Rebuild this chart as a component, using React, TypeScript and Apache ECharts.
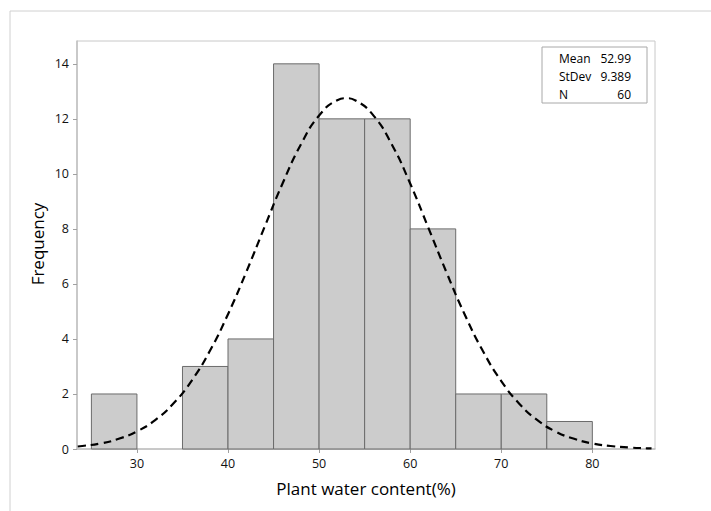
import React, { useEffect, useRef } from "react";
import * as echarts from "echarts";

const binStarts = [25, 30, 35, 40, 45, 50, 55, 60, 65, 70, 75];
const binEnds = [30, 35, 40, 45, 50, 55, 60, 65, 70, 75, 80];
const counts = [2, 0, 3, 4, 14, 12, 12, 8, 2, 2, 1];

const curveX = [23.5, 24, 26, 28, 30, 32, 34, 36, 38, 40, 42, 44, 46, 48, 50, 52, 53, 54, 56, 58, 60, 62, 64, 66, 68, 70, 72, 74, 76, 78, 80, 82, 84, 86, 86.5];
const curveY = [0.09, 0.11, 0.2, 0.37, 0.64, 1.05, 1.65, 2.48, 3.56, 4.9, 6.43, 8.06, 9.66, 11.07, 12.12, 12.68, 12.75, 12.67, 12.11, 11.06, 9.65, 8.04, 6.41, 4.88, 3.55, 2.47, 1.64, 1.04, 0.63, 0.37, 0.2, 0.11, 0.055, 0.026, 0.02];

const xTicks = [30, 40, 50, 60, 70, 80];
const yTicks = [0, 2, 4, 6, 8, 10, 12, 14];

const statLabels = ["Mean", "StDev", "N"];
const statValues = ["52.99", "9.389", "60"];

const FONT = "'Open Sans', 'Noto Sans', sans-serif";

export default function App() {
  const ref = useRef<HTMLDivElement>(null);
  useEffect(() => {
    if (!ref.current) return;
    const chart = echarts.init(ref.current, null, { renderer: "svg" });
    const barData = binStarts.map((s, i) => [s, binEnds[i], counts[i]]);
    const lineData = curveX.map((x, i) => [x, curveY[i]]);
    const statGraphics: any[] = [];
    statLabels.forEach((l, i) => {
      statGraphics.push({
        type: "text",
        left: 559,
        top: 52 + i * 18,
        style: { text: l, font: `12px ${FONT}`, fill: "#000" },
      });
      statGraphics.push({
        type: "text",
        x: 631,
        y: 52 + i * 18,
        style: { text: statValues[i], font: `12px ${FONT}`, fill: "#000", textAlign: "right", textVerticalAlign: "top" },
      });
    });
    chart.setOption({
      animation: false,
      backgroundColor: "#fff",
      grid: {
        left: 77,
        top: 41,
        right: 56,
        bottom: 62,
        show: true,
        borderColor: "#c8c8c8",
        borderWidth: 1,
      },
      xAxis: {
        type: "value",
        min: 23.42,
        max: 86.88,
        splitLine: { show: false },
        axisLine: { show: true, onZero: false, lineStyle: { color: "#c0c0c0", width: 1.5 } },
        axisTick: { show: true, length: 4, customValues: xTicks, lineStyle: { color: "#a0a0a0" } },
        axisLabel: { customValues: xTicks, margin: 8, fontSize: 12.5, color: "#111", fontFamily: FONT },
      },
      yAxis: {
        type: "value",
        min: 0,
        max: 14.83,
        splitLine: { show: false },
        axisLine: { show: true, lineStyle: { color: "#c0c0c0", width: 1.5 } },
        axisTick: { show: true, length: 4, customValues: yTicks, lineStyle: { color: "#a0a0a0" } },
        axisLabel: { customValues: yTicks, margin: 8, fontSize: 12.5, color: "#111", fontFamily: FONT },
      },
      series: [
        {
          type: "custom",
          data: barData,
          encode: { x: [0, 1], y: 2 },
          renderItem: (params: any, api: any) => {
            const s = api.value(0);
            const e = api.value(1);
            const c = api.value(2);
            if (!c) return null;
            const p0 = api.coord([s, 0]);
            const p1 = api.coord([e, c]);
            return {
              type: "rect",
              shape: { x: p0[0], y: p1[1], width: p1[0] - p0[0], height: p0[1] - p1[1] },
              style: { fill: "#cccccc", stroke: "#6b6b6b", lineWidth: 1 },
            };
          },
          z: 2,
        },
        {
          type: "line",
          data: lineData,
          smooth: true,
          symbol: "none",
          lineStyle: { color: "#000", width: 2.2, type: [8, 5] },
          z: 3,
        },
      ],
      graphic: [
        { type: "line", shape: { x1: 10, y1: 11, x2: 711, y2: 11 }, style: { stroke: "#d0d0d0", lineWidth: 1 } },
        { type: "line", shape: { x1: 10, y1: 11, x2: 10, y2: 511 }, style: { stroke: "#d0d0d0", lineWidth: 1 } },
        { type: "rect", shape: { x: 542, y: 47, width: 105, height: 56 }, style: { fill: "#fff", stroke: "#a8a8a8", lineWidth: 1 }, z: 10 },
        ...statGraphics.map((g) => ({ ...g, z: 11 })),
        {
          type: "text",
          x: 37,
          y: 244,
          rotation: Math.PI / 2,
          style: { text: "Frequency", font: `17px ${FONT}`, fill: "#000", textAlign: "center", textVerticalAlign: "middle" },
        },
        {
          type: "text",
          x: 366,
          y: 488,
          style: { text: "Plant water content(%)", font: `17px ${FONT}`, fill: "#000", textAlign: "center", textVerticalAlign: "middle" },
        },
      ],
    });
    return () => chart.dispose();
  }, []);
  return <div ref={ref} style={{ position: "fixed", left: 0, top: 0, width: 711, height: 511 }} />;
}
